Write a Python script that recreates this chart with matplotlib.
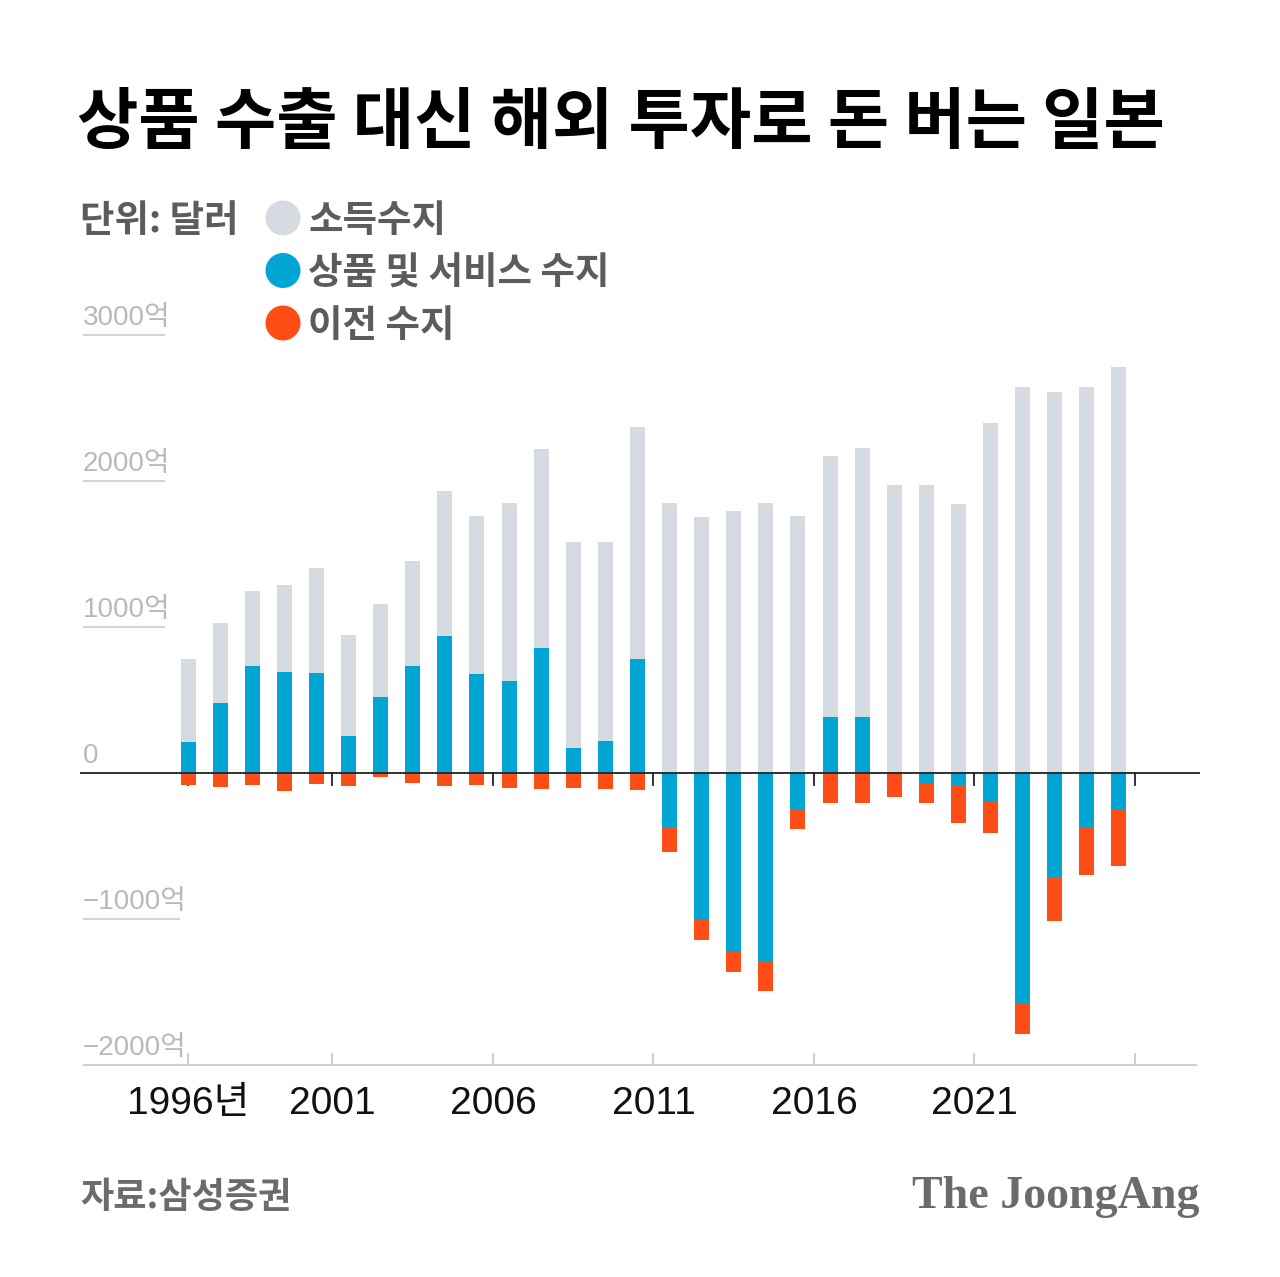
import matplotlib
matplotlib.use("Agg")
import matplotlib.pyplot as plt
import matplotlib.transforms as mtransforms
from matplotlib.patches import Circle
import numpy as np

plt.rcParams['font.family'] = ['Noto Sans CJK KR', 'DejaVu Sans']

# ---------------- data (unit: 억 달러) ----------------
years = list(range(1996, 2026))
goods_services = [208, 475, 733, 688, 681, 253, 518, 731, 938, 676,
                  630, 852, 171, 219, 781, -370, -1009, -1226, -1295, -251,
                  379, 379, 5, -77, -86, -199, -1584, -716, -377, -249]
income = [569, 552, 514, 596, 721, 692, 635, 719, 991, 1080,
          1219, 1363, 1411, 1363, 1587, 1845, 1749, 1795, 1845, 1758,
          1792, 1845, 1968, 1973, 1840, 2395, 2642, 2608, 2642, 2779]
transfer = [-86, -98, -84, -123, -79, -89, -29, -68, -91, -86,
            -103, -114, -107, -110, -118, -175, -137, -139, -198, -137,
            -205, -205, -164, -133, -256, -216, -206, -300, -322, -390]

ytick_values = [3000, 2000, 1000, 0, -1000, -2000]
ytick_labels = ['3000억', '2000억', '1000억', '0', '−1000억', '−2000억']
xtick_labels = ['1996년', '2001', '2006', '2011', '2016', '2021', '']
xtick_pos = [0, 4.5, 9.5, 14.5, 19.5, 24.5, 29.5]

legend_labels = ['소득수지', '상품 및 서비스 수지', '이전 수지']
GRAY = '#d5dbe0'
BLUE = '#00a6d3'
ORANGE = '#ff4d17'
legend_colors = [GRAY, BLUE, ORANGE]

# ---------------- figure ----------------
W, H = 1280, 1277
fig = plt.figure(figsize=(W / 100, H / 100), dpi=100)
fig.patch.set_facecolor('white')

def fx(px):
    return px / W

def fy(py):
    return 1 - py / H

# main axes: pixel box x 80..1200, y 300..1080
top_px, bot_px = 300, 1080
ax = fig.add_axes([fx(80), fy(bot_px), fx(1200) - fx(80), fy(top_px) - fy(bot_px)])
step = 32.1
x_left = (80 - 188) / step
x_right = (1200 - 188) / step
zero_px = 772.7
ppu = 0.146
ax.set_xlim(x_left, x_right)
ax.set_ylim((zero_px - bot_px) / ppu, (zero_px - top_px) / ppu)
ax.axis('off')

x = np.arange(len(years))
gs = np.array(goods_services, dtype=float)
inc = np.array(income, dtype=float)
tr = np.array(transfer, dtype=float)
bw = 15 / step

gs_pos = np.where(gs > 0, gs, 0)
gs_neg = np.where(gs < 0, gs, 0)

ax.bar(x, inc, bottom=gs_pos, width=bw, color=GRAY, zorder=2, linewidth=0)
ax.bar(x, gs, bottom=0, width=bw, color=BLUE, zorder=2, linewidth=0)
ax.bar(x, tr, bottom=gs_neg, width=bw, color=ORANGE, zorder=2, linewidth=0)

blend = mtransforms.blended_transform_factory(ax.transAxes, ax.transData)

# zero line
ax.plot([0, 1], [0, 0], transform=blend, color='#222222', lw=1.3, zorder=3,
        solid_capstyle='butt')
# bottom axis
ax.plot([0.0027, 0.9973], [-2000, -2000], transform=blend, color='#cfcfcf',
        lw=1.5, zorder=1, solid_capstyle='butt')

# ticks: down from zero line (black), up from bottom axis (gray)
tick_len = 13 / ppu
for xp in xtick_pos:
    ax.plot([xp, xp], [0, -tick_len * 0.95], color='#222222', lw=1.3, zorder=1)
    ax.plot([xp, xp], [-2000, -2000 + 11 / ppu], color='#cfcfcf', lw=1.5, zorder=1)

# y labels with short underlines
for v, lab in zip(ytick_values, ytick_labels):
    if v not in (0, -2000):
        x1 = 0.0893 if lab.startswith('−') else 0.0759
        ax.plot([0.0027, x1], [v, v], transform=blend, color='#d4d4d4', lw=1.5,
                zorder=1, solid_capstyle='butt')
    trans = mtransforms.offset_copy(blend, fig=fig, x=0, y=10, units='dots')
    ax.text(0.0027, v, lab, transform=trans, ha='left', va='baseline',
            fontsize=20, color='#b9b9b9',
            family=['Liberation Sans', 'Noto Sans CJK KR'])

# x tick labels
xtrans = mtransforms.offset_copy(ax.transData, fig=fig, x=0, y=-49, units='dots')
for xp, lab in zip(xtick_pos, xtick_labels):
    if lab:
        ax.text(xp, -2000, lab, transform=xtrans, ha='center', va='baseline',
                fontsize=28, color='#111111',
                family=['Liberation Sans', 'Noto Sans CJK KR'])

# ---------------- overlay for title, legend, footer ----------------
ov = fig.add_axes([0, 0, 1, 1], zorder=5)
ov.set_xlim(0, W)
ov.set_ylim(H, 0)
ov.axis('off')
ov.patch.set_alpha(0)

ov.text(77, 143, '상품 수출 대신 해외 투자로 돈 버는 일본', ha='left', va='baseline',
        fontsize=48, fontweight='heavy', color='#000000')

ov.text(80, 232, '단위: 달러', ha='left', va='baseline', fontsize=27,
        fontweight='bold', color='#5c5c5c')

for i, (lab, col) in enumerate(zip(legend_labels, legend_colors)):
    cy = 218 + i * 52.5
    ov.add_patch(Circle((283, cy), 17.5, color=col, lw=0))
    ov.text(308, cy + 14, lab, ha='left', va='baseline', fontsize=27,
            fontweight='bold', color='#5c5c5c')

ov.text(80, 1208, '자료:삼성증권', ha='left', va='baseline', fontsize=26,
        fontweight='bold', color='#6b6b6b')
ov.text(1200, 1208, 'The JoongAng', ha='right', va='baseline', fontsize=33,
        fontweight='bold', color='#6b6b6b', family=['Liberation Serif'])

fig.savefig('out.png', dpi=100, facecolor='white')
